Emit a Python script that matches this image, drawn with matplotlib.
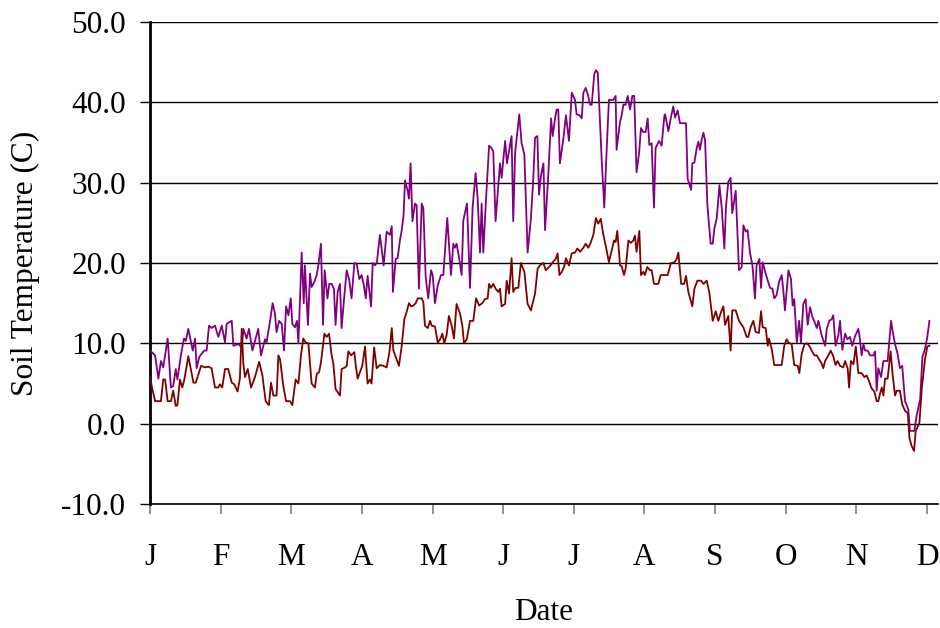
import matplotlib
matplotlib.use("Agg")
import matplotlib.pyplot as plt

# ----------------------------
# DATA
# ----------------------------
months = ["J", "F", "M", "A", "M", "J", "J", "A", "S", "O", "N", "D"]
month_start = [i * 365 / 12 for i in range(12)]

purple_day = [
    0.0, 2.2, 3.6, 4.7, 5.7, 7.6, 9.0, 10.0, 11.1, 11.8, 13.3, 14.6, 15.4, 16.5, 17.2, 18.4,
    19.4, 20.1, 21.2, 22.2, 23.4, 24.4, 25.4, 26.5, 28.0, 29.4, 30.9, 32.3, 33.0, 34.0, 35.2,
    35.9, 38.0, 39.5, 40.2, 41.6, 42.6, 44.1, 45.2, 46.6, 47.8, 49.5, 50.2, 51.7, 52.8,
    53.8, 54.5, 55.6, 56.7, 57.7, 58.6, 59.6, 60.6, 61.3, 62.4, 63.3, 63.9, 65.3, 66.2, 66.7,
    68.0, 68.9, 69.6, 70.8, 71.8, 72.5, 73.6, 74.5, 75.2, 76.4, 77.2, 78.2, 79.2, 79.9, 80.8,
    81.8, 82.5, 83.7, 84.7, 85.7, 86.8, 88.0, 89.0, 90.1, 91.1, 92.1, 92.9, 93.7, 95.2, 95.9,
    96.9, 97.7, 99.0, 99.8, 100.6, 101.9, 103.3, 104.1, 104.6, 105.8, 106.6, 107.6, 108.4, 109.2,
    109.8, 111.0, 111.5, 112.2, 113.0, 114.1, 114.8, 115.8, 117.0, 117.7, 118.7, 119.8, 121.0,
    121.7, 122.7, 123.9, 125.3, 126.3, 128.0, 129.6, 130.6, 131.3, 132.0, 133.0, 134.2, 134.9,
    136.5, 137.8, 138.9, 140.2, 141.1, 142.1, 142.8, 143.5, 144.7, 146.0, 146.8, 147.8, 148.8,
    150.7, 151.4, 152.9, 153.7, 155.7, 156.4, 157.2, 159.0, 160.0, 161.2, 162.6, 164.0, 165.0,
    165.8, 166.8, 167.5, 168.4, 169.4, 170.1, 171.5, 172.7, 173.4, 174.4, 175.1, 175.8, 176.5,
    178.0, 179.1, 180.4, 181.6, 183.0, 183.7, 184.9, 185.9, 186.6, 187.6, 188.5, 189.5, 190.2,
    191.3, 192.0, 192.8, 194.5, 195.6, 196.6, 197.6, 199.5, 200.5, 200.9, 202.4, 203.1, 203.8,
    204.8, 205.7, 206.7, 207.7, 208.5, 209.5, 210.6, 211.4, 212.4, 213.4, 214.3, 215.0, 216.0,
    217.0, 217.7, 219.2, 220.3, 221.5,
    221.8, 223.2, 224.3, 225.3, 226.1, 227.2, 228.2, 229.7, 230.8, 231.5, 233.0, 233.5, 234.4,
    235.4, 236.1, 236.8, 237.5, 238.3, 239.0, 240.0, 241.4, 242.3, 243.0, 244.0, 245.2, 246.2,
    247.3, 248.0, 249.0, 250.0, 250.7, 252.2, 253.0, 253.6, 254.8, 255.5, 256.5, 257.3, 258.4,
    259.4, 260.5, 261.2, 262.4, 263.1, 263.8, 264.8, 266.0, 267.0, 268.0, 268.8, 269.8, 270.8,
    272.0, 272.7, 273.4, 274.9, 276.0, 276.7, 277.4,
    278.5, 279.5, 280.3, 281.3, 282.3, 283.2, 284.2, 285.2, 286.1, 287.1, 287.8, 289.2, 290.7,
    291.4, 292.5, 293.5, 294.2, 295.2, 296.4, 297.1, 298.1, 299.3, 300.3, 301.4, 302.4, 303.6,
    305.0, 305.7, 306.4, 307.2, 307.9, 309.0, 310.0, 311.5, 312.2, 312.9, 313.6, 314.8, 315.8,
    317.6, 319.1, 319.6, 320.8, 321.9, 322.9, 323.9, 325.1, 326.5, 327.2, 329.1, 330.1, 331.6,
    332.6, 333.7, 334.7, 335.6,
]
purple_temp = [
    9.1, 8.5, 5.6, 7.8, 7.0, 10.6, 4.5, 4.7, 6.8, 5.5, 8.5, 10.6, 10.3, 11.8, 10.8, 9.1,
    10.6, 6.9, 8.3, 8.7, 9.1, 9.1, 12.2, 11.9, 12.2, 10.8, 12.2, 10.1, 12.4, 12.6, 12.8,
    9.7, 9.9, 9.5, 11.8, 10.6, 11.8, 9.1, 10.3, 11.8, 8.5, 10.5, 10.1, 12.8, 15.0,
    13.7, 11.4, 12.8, 12.4, 9.1, 14.6, 13.5, 15.6, 12.4, 12.0, 12.8, 10.0, 21.3, 15.0, 19.7,
    12.3, 18.7, 17.0, 17.7, 18.5, 19.7, 22.4, 12.3, 19.1, 15.6, 17.4, 17.4, 16.8, 12.3, 16.4,
    17.4, 11.9, 16.0, 19.1, 18.0, 15.6, 20.0, 19.9, 18.0, 18.5, 17.2, 15.6, 18.4, 14.6, 20.0,
    19.7, 20.1, 23.5, 21.6, 19.7, 23.9, 23.5, 24.6, 16.4, 20.5, 20.6, 22.8, 24.1, 26.0,
    30.3, 28.9, 28.0, 32.4, 25.2, 27.4, 27.2, 16.8, 27.4, 26.8, 18.3, 15.6, 19.1,
    18.5, 15.0, 17.2, 18.5, 18.5, 25.6, 18.5, 22.4, 21.9, 22.4, 20.8, 18.5, 25.3,
    27.4, 16.9, 26.9, 31.2, 28.0, 21.3, 27.4, 21.3, 28.0, 34.6, 34.4, 33.9, 25.2,
    32.4, 30.6, 35.2, 32.4, 35.8, 25.2, 33.7, 38.5, 34.9, 33.5, 21.3, 25.5, 30.3,
    35.6, 35.8, 28.5, 31.0, 32.4, 24.1, 31.0, 38.0, 35.8, 38.0, 39.1, 39.1, 32.4,
    35.5, 38.4, 35.2, 41.2, 40.3, 38.5, 38.4, 38.0, 41.2, 41.8, 41.0, 39.7, 39.7,
    43.5, 44.0, 43.7, 32.8, 26.9, 33.9, 40.3, 40.3, 40.8, 34.1, 37.6, 38.4, 39.7,
    39.7, 40.8, 39.1, 40.8, 40.8, 31.3, 33.7, 36.8, 36.3, 36.3, 38.0, 34.7, 34.9,
    26.9, 34.3, 35.2, 34.6, 38.4,
    38.5, 36.4, 38.1, 39.5, 38.1, 39.0, 37.4, 37.4, 37.4, 30.5, 29.1, 32.4, 32.5,
    34.3, 35.1, 34.1, 35.3, 36.2, 35.3, 27.2, 22.4, 22.4, 24.3, 25.5, 29.7, 26.8,
    21.8, 27.0, 30.1, 30.6, 26.2, 29.0, 23.5, 19.1, 19.5, 24.7, 23.9, 24.1, 21.2,
    19.7, 15.6, 19.7, 20.5, 16.9, 20.1, 19.0, 17.8, 16.9, 16.8, 15.6, 16.0, 17.6,
    18.5, 16.6, 14.1, 19.1, 18.0, 14.7, 15.5,
    10.1, 12.8, 10.1, 14.9, 15.5, 12.3, 14.5, 13.3, 12.7, 11.9, 12.8, 11.0, 9.7,
    11.8, 12.8, 13.0, 13.5, 9.7, 11.0, 12.8, 9.2, 11.2, 10.5, 10.8, 9.7, 10.9,
    11.8, 10.5, 8.5, 9.9, 9.1, 9.1, 8.5, 8.5, 9.0, 4.1, 6.9, 5.8, 7.8,
    7.8, 12.8, 11.8, 9.9, 8.7, 6.9, 7.2, 2.8, 1.8, -0.9, -0.9, 1.0, 3.0,
    8.3, 9.3, 10.8, 12.8,
]

red_day = [
    0.0, 1.0, 2.2, 4.7, 5.7, 6.5, 7.6, 9.0, 10.0, 11.1, 11.8, 12.9, 13.9, 14.8, 16.5, 18.7,
    19.7, 22.0, 23.7, 25.1, 26.5, 28.0, 29.4, 30.1, 31.1, 32.3, 33.7, 35.2, 36.3, 37.7, 38.7,
    39.5, 40.2, 40.9, 42.1, 43.5, 45.2, 47.0, 48.4, 49.8, 51.2, 52.1, 53.1,
    53.8, 54.5, 55.3, 56.0, 57.4, 58.6, 60.3, 61.3, 62.7, 63.9, 65.0, 66.0, 67.0, 68.2, 69.6,
    71.0, 71.8, 72.8, 73.6, 75.1, 76.1, 77.1, 78.2, 78.9, 79.9, 81.8, 82.5, 84.0, 84.7, 85.4,
    86.6, 88.0, 88.6, 89.4, 90.4, 91.4, 92.6, 93.7, 94.7, 95.4, 96.5, 97.6, 99.0, 100.5, 101.9,
    103.1, 104.1, 104.8, 105.8, 107.2, 108.4, 109.5,
    110.5, 111.5, 112.4, 113.4, 114.4, 115.3, 117.0, 117.7, 118.4, 119.6, 120.6, 121.3, 122.7,
    123.9, 124.9, 125.9, 126.7, 127.7, 128.7, 129.9, 130.9, 132.0, 133.5, 134.5, 135.2, 136.4,
    137.8, 139.2, 140.4, 141.7, 143.1, 144.2, 145.4, 146.0, 146.8, 147.8, 148.8, 150.0, 150.7,
    151.4, 152.9, 153.6, 154.6, 155.7, 156.4, 157.4, 158.6, 159.7, 161.2, 162.6, 164.0, 165.3,
    165.8, 166.9, 167.9, 169.4, 170.4, 171.5, 172.7, 173.7, 174.7, 175.5, 176.3, 177.3, 178.3,
    179.1, 180.4, 181.6, 183.0, 184.0, 185.2, 186.6, 187.6, 188.7, 189.7, 190.9, 192.0, 193.0,
    194.1, 195.2, 196.2, 197.6, 198.8, 199.8, 200.5, 201.2, 202.4, 203.1, 204.1, 204.8, 206.0,
    207.0, 208.1, 208.8, 209.5, 210.7, 211.4, 212.4, 213.1, 214.1, 215.3, 216.0, 217.0, 218.9,
    219.9, 221.5,
    221.8, 222.9, 224.3, 225.8, 226.8, 227.5, 228.7, 230.0, 230.8, 231.8, 233.5, 234.4, 235.7,
    237.3, 238.3, 239.7, 240.8, 242.3, 243.6, 244.7, 245.9, 246.9, 247.6, 249.0, 250.0, 250.7,
    252.2, 253.6, 255.5, 256.9, 257.6, 258.6, 259.8, 260.8, 262.2, 263.1, 263.8, 265.1, 266.0,
    266.5, 267.7, 268.8, 270.6, 272.0, 273.1, 274.1, 274.9, 276.3, 277.4,
    278.9, 279.6, 280.6, 281.8, 282.8, 283.8, 284.9, 286.1, 287.1, 288.1, 289.2, 289.9, 290.7,
    292.1, 293.1, 294.2, 295.2, 296.1, 297.1, 298.5, 299.3, 300.4, 301.0, 301.8, 302.9, 303.9,
    305.0, 306.4, 307.6, 308.6, 309.6, 310.7, 311.9, 312.9, 313.6, 314.3, 315.1, 315.8, 316.5,
    317.6, 318.9, 319.8, 320.8, 321.5, 322.9, 323.9, 325.1, 326.3, 327.0, 328.0, 329.0, 329.7,
    331.3, 332.3, 333.7, 334.7, 335.6,
]
red_temp = [
    5.8, 4.3, 2.8, 2.8, 5.5, 5.5, 2.8, 2.8, 4.1, 2.2, 2.3, 5.5, 4.5, 5.5, 8.4, 5.1,
    5.1, 7.2, 7.0, 7.1, 6.9, 4.5, 4.5, 4.9, 4.5, 6.8, 6.8, 5.1, 4.9, 4.0, 5.6,
    11.8, 7.4, 5.8, 6.8, 4.5, 5.8, 7.7, 6.0, 2.8, 2.3, 5.1, 3.5,
    3.5, 3.5, 8.5, 8.0, 4.7, 2.8, 2.8, 2.3, 5.5, 5.0, 8.5, 10.6, 10.1, 10.0, 5.0,
    4.5, 6.2, 6.4, 7.6, 11.2, 10.8, 11.2, 8.5, 7.6, 4.3, 3.5, 6.8, 7.0, 7.2, 9.0,
    8.5, 8.9, 7.2, 5.6, 6.4, 7.2, 9.6, 5.0, 5.5, 5.0, 9.5, 6.9, 7.3, 7.2, 7.0,
    8.9, 11.9, 9.1, 8.3, 7.2, 9.7, 13.0,
    13.9, 15.0, 14.6, 14.7, 15.0, 15.6, 15.6, 15.1, 12.2, 11.9, 12.8, 12.2, 12.1,
    10.1, 10.5, 11.2, 10.0, 11.0, 13.4, 12.2, 10.6, 14.9, 13.7, 12.2, 10.0, 10.5,
    12.8, 12.8, 15.6, 14.7, 15.0, 15.5, 15.6, 17.4, 16.9, 17.4, 16.8, 16.4, 16.8,
    14.6, 14.9, 17.8, 16.2, 20.6, 16.4, 16.9, 16.9, 20.0, 18.9, 14.9, 14.1, 15.6,
    16.2, 19.3, 19.7, 20.0, 19.1, 19.4, 19.8, 20.2, 20.5, 21.2, 18.5, 18.9, 19.5,
    20.6, 19.7, 21.2, 21.3, 21.8, 21.4, 21.9, 22.4, 21.9, 22.5, 23.5, 25.6, 24.9,
    25.5, 23.5, 22.2, 20.1, 21.6, 22.8, 22.6, 24.0, 19.7, 19.6, 18.5, 19.3, 22.8,
    22.5, 22.8, 23.4, 21.4, 24.0, 18.5, 18.9, 18.5, 19.5, 19.1, 19.1, 17.4, 17.4,
    18.5, 18.5,
    18.5, 18.5, 20.0, 20.1, 20.5, 21.3, 17.4, 17.4, 18.4, 16.4, 14.6, 16.8, 17.8,
    17.8, 17.4, 17.8, 16.4, 12.8, 14.0, 12.8, 13.9, 14.6, 12.3, 13.4, 9.1, 14.1,
    14.1, 12.8, 12.0, 10.8, 10.8, 12.0, 12.8, 11.4, 11.3, 14.0, 12.0, 11.9, 9.7,
    10.6, 9.3, 7.3, 7.3, 7.3, 9.7, 10.5, 10.1, 9.9, 7.3,
    7.2, 6.3, 8.7, 9.9, 10.0, 9.7, 9.1, 8.5, 8.5, 8.0, 7.5, 6.9, 7.8,
    8.5, 9.1, 8.4, 7.3, 7.8, 7.2, 7.0, 7.8, 6.9, 4.5, 7.8, 7.4, 9.6,
    6.3, 6.3, 5.8, 6.0, 5.3, 4.4, 4.0, 2.8, 2.8, 3.7, 4.5, 3.5, 5.6,
    5.6, 9.0, 6.0, 3.5, 4.1, 4.1, 2.4, 1.6, 1.3, -1.8, -2.8, -3.4, -0.9,
    0.1, 4.3, 8.0, 9.6, 9.7,
]

y_ticks = [-10, 0, 10, 20, 30, 40, 50]

# ----------------------------
# PLOT
# ----------------------------
plt.rcParams["font.family"] = ["Liberation Serif", "DejaVu Serif"]

fig = plt.figure(figsize=(9.4, 6.28), dpi=100)
ax = fig.add_axes([150 / 940, 124 / 628, 788 / 940, 482 / 628])

for y in y_ticks:
    ax.axhline(y, color="black", lw=1.0, zorder=1)

ax.plot(purple_day, purple_temp, color="#800080", lw=1.3, zorder=3)
ax.plot(red_day, red_temp, color="#800000", lw=1.3, zorder=3)

ax.set_xlim(0, 339.3)
ax.set_ylim(-10, 50)

ax.set_yticks(y_ticks)
ax.set_yticklabels([f"{v:.1f}" for v in y_ticks])
ax.set_xticks(month_start)
ax.set_xticklabels(months)

ax.tick_params(axis="y", direction="out", length=7.2, width=1, color="black",
               labelsize=22.5, pad=10)
ax.tick_params(axis="x", direction="out", length=7.2, width=1.2, color="#808080",
               labelsize=22.5, pad=21)

for side in ["top", "right"]:
    ax.spines[side].set_visible(False)
ax.spines["left"].set_linewidth(2.0)
ax.spines["bottom"].set_linewidth(1.2)

ax.set_ylabel("Soil Temperature (C)", fontsize=22.5)
ax.set_xlabel("Date", fontsize=22.5)
ax.yaxis.set_label_coords(-0.14, 0.5)
ax.xaxis.set_label_coords(0.5, -0.195)

fig.savefig("out.png", dpi=100)
